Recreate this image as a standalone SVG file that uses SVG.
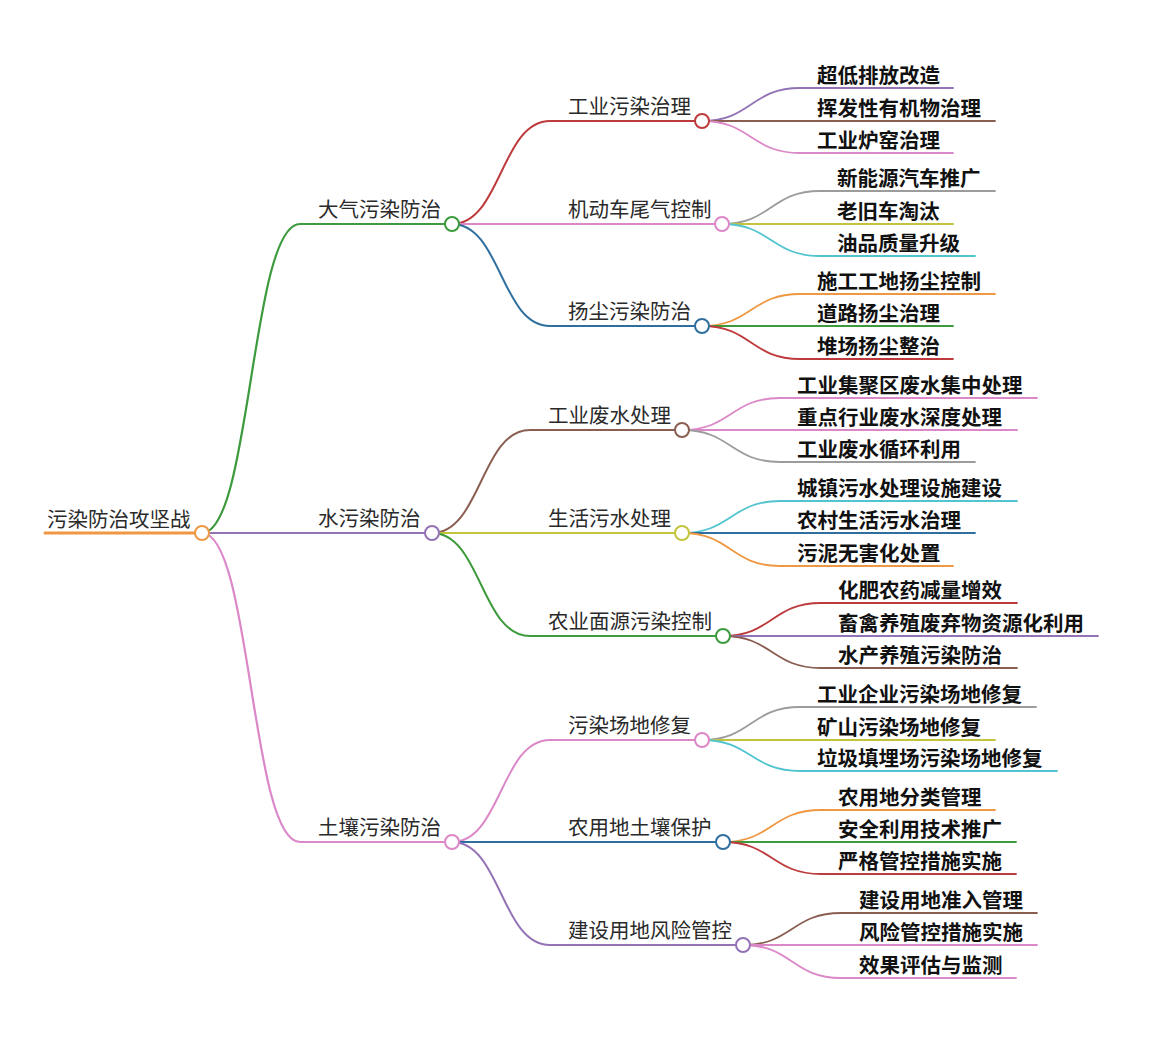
<svg xmlns="http://www.w3.org/2000/svg" width="1152" height="1061" viewBox="0 0 1152 1061">
<style>
text{font-family:"Noto Sans CJK SC","Noto Sans",sans-serif;}
.t0{font-size:20.5px;fill:#2a2a2a;}
.t1{font-size:20.5px;fill:#2a2a2a;}
.t2{font-size:20.5px;fill:#2a2a2a;}
.t3{font-size:20.5px;font-weight:bold;fill:#111;}
path{fill:none;stroke-linecap:round;}
.w0{stroke-width:3;}
.w1{stroke-width:2.2;}
.w2{stroke-width:2;}
.w3{stroke-width:1.8;}
circle{fill:#fff;stroke-width:2;}
.red{stroke:#be3b3d;}
.green{stroke:#3d9a3d;}
.blue{stroke:#2f6f9f;}
.orange{stroke:#ee9843;}
.purple{stroke:#9372b6;}
.brown{stroke:#8a5f52;}
.pink{stroke:#dc87c8;}
.grey{stroke:#9c9c9c;}
.olive{stroke:#c4c43c;}
.cyan{stroke:#52c4cf;}
</style>
<rect width="1152" height="1061" fill="#fff"/>
<g id="connectors">
<path class="w0 orange" d="M45 533 H202"/>
<path class="w1 green" d="M202 533 C251 533 251 224 300 224 H452"/>
<path class="w1 purple" d="M202 533 H432"/>
<path class="w1 pink" d="M202 533 C251 533 251 842 300 842 H452"/>
<path class="w2 red" d="M452 224 C501 224 501 121 550 121 H702"/>
<path class="w2 pink" d="M452 224 H722"/>
<path class="w2 blue" d="M452 224 C501 224 501 326 550 326 H702"/>
<path class="w2 brown" d="M432 533 C481 533 481 430 530 430 H682"/>
<path class="w2 olive" d="M432 533 H682"/>
<path class="w2 green" d="M432 533 C481 533 481 636 530 636 H723"/>
<path class="w2 pink" d="M452 842 C501 842 501 740 550 740 H702"/>
<path class="w2 blue" d="M452 842 H723"/>
<path class="w2 purple" d="M452 842 C501 842 501 945 550 945 H743"/>
<path class="w3 purple" d="M702 121 C751 121 751 88 800 88 H953"/>
<path class="w3 brown" d="M702 121 H995"/>
<path class="w3 pink" d="M702 121 C751 121 751 153 800 153 H953"/>
<path class="w3 grey" d="M722 224 C771 224 771 191 820 191 H995"/>
<path class="w3 olive" d="M722 224 H953"/>
<path class="w3 cyan" d="M722 224 C771 224 771 256 820 256 H975"/>
<path class="w3 orange" d="M702 326 C751 326 751 294 800 294 H995"/>
<path class="w3 green" d="M702 326 H953"/>
<path class="w3 red" d="M702 326 C751 326 751 359 800 359 H953"/>
<path class="w3 pink" d="M682 430 C731 430 731 398 780 398 H1037"/>
<path class="w3 pink" d="M682 430 H1017"/>
<path class="w3 grey" d="M682 430 C731 430 731 462 780 462 H975"/>
<path class="w3 cyan" d="M682 533 C731 533 731 501 780 501 H1017"/>
<path class="w3 blue" d="M682 533 H975"/>
<path class="w3 orange" d="M682 533 C731 533 731 566 780 566 H953"/>
<path class="w3 red" d="M723 636 C772 636 772 603 821 603 H1017"/>
<path class="w3 purple" d="M723 636 H1098"/>
<path class="w3 brown" d="M723 636 C772 636 772 668 821 668 H1017"/>
<path class="w3 grey" d="M702 740 C751 740 751 707 800 707 H1036"/>
<path class="w3 olive" d="M702 740 H995"/>
<path class="w3 cyan" d="M702 740 C751 740 751 771 800 771 H1057"/>
<path class="w3 orange" d="M723 842 C772 842 772 810 821 810 H995"/>
<path class="w3 green" d="M723 842 H1016"/>
<path class="w3 red" d="M723 842 C772 842 772 874 821 874 H1016"/>
<path class="w3 brown" d="M743 945 C792 945 792 913 841 913 H1037"/>
<path class="w3 pink" d="M743 945 H1037"/>
<path class="w3 pink" d="M743 945 C792 945 792 978 841 978 H1016"/>
</g>
<g id="n-root"><text class="t0" x="47" y="527">污染防治攻坚战</text><circle class="orange" cx="202" cy="533" r="7"/></g>
<g id="n-air"><text class="t1" x="318" y="217">大气污染防治</text><circle class="green" cx="452" cy="224" r="7"/></g>
<g id="n-water"><text class="t1" x="318" y="526">水污染防治</text><circle class="purple" cx="432" cy="533" r="7"/></g>
<g id="n-soil"><text class="t1" x="318" y="835">土壤污染防治</text><circle class="pink" cx="452" cy="842" r="7"/></g>
<g id="n-air-1"><text class="t2" x="568" y="114">工业污染治理</text><circle class="red" cx="702" cy="121" r="7"/></g>
<g id="n-air-2"><text class="t2" x="568" y="217">机动车尾气控制</text><circle class="pink" cx="722" cy="224" r="7"/></g>
<g id="n-air-3"><text class="t2" x="568" y="319">扬尘污染防治</text><circle class="blue" cx="702" cy="326" r="7"/></g>
<g id="n-water-1"><text class="t2" x="548" y="423">工业废水处理</text><circle class="brown" cx="682" cy="430" r="7"/></g>
<g id="n-water-2"><text class="t2" x="548" y="526">生活污水处理</text><circle class="olive" cx="682" cy="533" r="7"/></g>
<g id="n-water-3"><text class="t2" x="548" y="629">农业面源污染控制</text><circle class="green" cx="723" cy="636" r="7"/></g>
<g id="n-soil-1"><text class="t2" x="568" y="733">污染场地修复</text><circle class="pink" cx="702" cy="740" r="7"/></g>
<g id="n-soil-2"><text class="t2" x="568" y="835">农用地土壤保护</text><circle class="blue" cx="723" cy="842" r="7"/></g>
<g id="n-soil-3"><text class="t2" x="568" y="938">建设用地风险管控</text><circle class="purple" cx="743" cy="945" r="7"/></g>
<g id="leaf-1"><text class="t3" x="817" y="83">超低排放改造</text></g>
<g id="leaf-2"><text class="t3" x="817" y="116">挥发性有机物治理</text></g>
<g id="leaf-3"><text class="t3" x="817" y="148">工业炉窑治理</text></g>
<g id="leaf-4"><text class="t3" x="837" y="186">新能源汽车推广</text></g>
<g id="leaf-5"><text class="t3" x="837" y="219">老旧车淘汰</text></g>
<g id="leaf-6"><text class="t3" x="837" y="251">油品质量升级</text></g>
<g id="leaf-7"><text class="t3" x="817" y="289">施工工地扬尘控制</text></g>
<g id="leaf-8"><text class="t3" x="817" y="321">道路扬尘治理</text></g>
<g id="leaf-9"><text class="t3" x="817" y="354">堆场扬尘整治</text></g>
<g id="leaf-10"><text class="t3" x="797" y="393">工业集聚区废水集中处理</text></g>
<g id="leaf-11"><text class="t3" x="797" y="425">重点行业废水深度处理</text></g>
<g id="leaf-12"><text class="t3" x="797" y="457">工业废水循环利用</text></g>
<g id="leaf-13"><text class="t3" x="797" y="496">城镇污水处理设施建设</text></g>
<g id="leaf-14"><text class="t3" x="797" y="528">农村生活污水治理</text></g>
<g id="leaf-15"><text class="t3" x="797" y="561">污泥无害化处置</text></g>
<g id="leaf-16"><text class="t3" x="838" y="598">化肥农药减量增效</text></g>
<g id="leaf-17"><text class="t3" x="838" y="631">畜禽养殖废弃物资源化利用</text></g>
<g id="leaf-18"><text class="t3" x="838" y="663">水产养殖污染防治</text></g>
<g id="leaf-19"><text class="t3" x="817" y="702">工业企业污染场地修复</text></g>
<g id="leaf-20"><text class="t3" x="817" y="735">矿山污染场地修复</text></g>
<g id="leaf-21"><text class="t3" x="817" y="766">垃圾填埋场污染场地修复</text></g>
<g id="leaf-22"><text class="t3" x="838" y="805">农用地分类管理</text></g>
<g id="leaf-23"><text class="t3" x="838" y="837">安全利用技术推广</text></g>
<g id="leaf-24"><text class="t3" x="838" y="869">严格管控措施实施</text></g>
<g id="leaf-25"><text class="t3" x="859" y="908">建设用地准入管理</text></g>
<g id="leaf-26"><text class="t3" x="859" y="940">风险管控措施实施</text></g>
<g id="leaf-27"><text class="t3" x="859" y="973">效果评估与监测</text></g>
</svg>
